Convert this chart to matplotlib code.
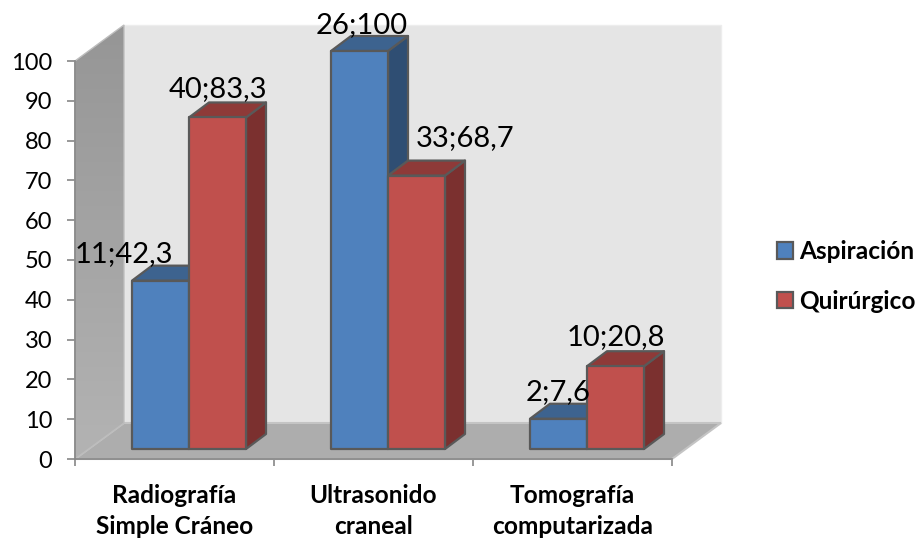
import numpy as np
import matplotlib
matplotlib.use("Agg")
import matplotlib.pyplot as plt
from matplotlib.patches import Polygon, Patch

plt.rcParams['font.family'] = ['Lato', 'DejaVu Sans']

categories = ["Radiografía\nSimple Cráneo", "Ultrasonido\ncraneal", "Tomografía\ncomputarizada"]
series_names = ["Aspiración", "Quirúrgico"]
counts_aspiracion = [11, 26, 2]
counts_quirurgico = [40, 33, 10]
pct_aspiracion = [42.3, 100, 7.6]
pct_quirurgico = [83.3, 68.7, 20.8]
y_ticks = list(range(0, 101, 10))

W, H = 916, 541
X0_PX, X1_PX = 75, 672      # ends of the category axis
Y0_PX, Y100_PX = 459, 61    # baseline and 100 on the value axis
ux = (X1_PX - X0_PX) / 3
uy = (Y0_PX - Y100_PX) / 100

fig = plt.figure(figsize=(W / 100, H / 100), dpi=100, facecolor="white")
ax = fig.add_axes([0, 0, 1, 1])
ax.set_xlim(-X0_PX / ux, (W - X0_PX) / ux)
ax.set_ylim((Y0_PX - H) / uy, Y0_PX / uy)
ax.set_facecolor("none")


def dx(px):
    return px / ux


def dy(px):
    return px / uy


# Room: back wall, floor, and side wall with a vertical gradient
wall_dx, wall_dy = dx(49), dy(36)
back = [(wall_dx, wall_dy), (3 + wall_dx, wall_dy), (3 + wall_dx, 100 + wall_dy), (wall_dx, 100 + wall_dy)]
ax.add_patch(Polygon(back, fc="#E5E5E5", ec="#EDEDED", lw=1, zorder=1))
floor = [(0, 0), (3, 0), (3 + wall_dx, wall_dy), (wall_dx, wall_dy)]
ax.add_patch(Polygon(floor, fc="#ADADAD", ec="#C4C4C4", lw=1.5, zorder=2))
side = Polygon([(0, 0), (wall_dx, wall_dy), (wall_dx, 100 + wall_dy), (0, 100)],
               fc="none", ec="#BDBDBD", lw=1, zorder=3)
ax.add_patch(side)
shade = np.linspace(0.585, 0.70, 128).reshape(-1, 1)
img = ax.imshow(shade, cmap="gray", vmin=0, vmax=1, aspect="auto", zorder=2.5,
                extent=(0, wall_dx, 0, 100 + wall_dy), origin="upper", interpolation="bilinear")
img.set_clip_path(side)
ax.set_xlim(-X0_PX / ux, (W - X0_PX) / ux)
ax.set_ylim((Y0_PX - H) / uy, Y0_PX / uy)

# Bars as three visible faces of a box
bar_w = dx(57)
bar_x0 = dx(57)
base = dy(10)
depth_x, depth_y = dx(20), dy(15)
EDGE = "#595959"
styles = [("#4F81BD", "#3D638F", "#2F4E73"), ("#C0504D", "#8E3A38", "#7B302F")]


def box(x, value, colors, z):
    front, top, right = colors
    t = base + value
    ax.add_patch(Polygon([(x + bar_w, base), (x + bar_w + depth_x, base + depth_y),
                          (x + bar_w + depth_x, t + depth_y), (x + bar_w, t)],
                         fc=right, ec=EDGE, lw=1.6, joinstyle="round", zorder=z))
    ax.add_patch(Polygon([(x, t), (x + bar_w, t), (x + bar_w + depth_x, t + depth_y), (x + depth_x, t + depth_y)],
                         fc=top, ec=EDGE, lw=1.6, joinstyle="round", zorder=z))
    ax.add_patch(Polygon([(x, base), (x + bar_w, base), (x + bar_w, t), (x, t)],
                         fc=front, ec=EDGE, lw=1.6, joinstyle="round", zorder=z + 0.1))


for i in range(len(categories)):
    box(i + bar_x0, pct_aspiracion[i], styles[0], 5 + i)
    box(i + bar_x0 + bar_w, pct_quirurgico[i], styles[1], 5.5 + i)


def label(count, pct):
    return f"{count};{pct:g}".replace(".", ",")


# Data labels, with sideways nudges where they would collide with a neighbouring bar
nudge_a = [-37, 2, 0]
nudge_q = [0, 49, 0]
nudge_up_a = [27, 26, 27]
nudge_up_q = [28, 38, 29]
for i in range(len(categories)):
    xa = i + bar_x0 + bar_w / 2
    xq = xa + bar_w
    ax.text(xa + dx(nudge_a[i]), base + pct_aspiracion[i] + dy(nudge_up_a[i]),
            label(counts_aspiracion[i], pct_aspiracion[i]), ha="center", va="center",
            fontsize=21, color="black", zorder=20)
    ax.text(xq + dx(nudge_q[i]), base + pct_quirurgico[i] + dy(nudge_up_q[i]),
            label(counts_quirurgico[i], pct_quirurgico[i]), ha="center", va="center",
            fontsize=21, color="black", zorder=20)

# Axes
for s in ("top", "right"):
    ax.spines[s].set_visible(False)
for s in ("left", "bottom"):
    ax.spines[s].set_position(("data", 0))
    ax.spines[s].set_color("#868686")
    ax.spines[s].set_linewidth(1.2)
    ax.spines[s].set_zorder(4)
ax.spines["left"].set_bounds(0, 100)
ax.spines["bottom"].set_bounds(0, 3)
ax.set_yticks(y_ticks)
ax.tick_params(axis="y", direction="out", length=6, width=1.2, color="#868686", pad=10.5, labelsize=17)
ax.set_xticks([0, 1, 2, 3])
ax.set_xticklabels([])
ax.tick_params(axis="x", which="major", direction="out", length=5, width=1.2, color="#868686")
ax.set_xticks([0.5, 1.5, 2.5], labels=categories, minor=True)
ax.tick_params(axis="x", which="minor", length=0, pad=18, labelsize=17.6)
for t in ax.get_xticklabels(minor=True):
    t.set_fontweight("bold")
    t.set_linespacing(1.42)
    t.set_multialignment("center")

handles = [Patch(fc=styles[k][0], ec=EDGE, lw=1.6, label=series_names[k]) for k in range(2)]
ax.legend(handles=handles, loc="upper left", bbox_to_anchor=(777 / W, 1 - 240 / H), frameon=False,
          prop={"weight": "bold", "size": 17.6}, handlelength=0.65, handleheight=0.65,
          handletextpad=0.25, labelspacing=1.1, borderpad=0, borderaxespad=0)

fig.savefig("out.png", dpi=100, facecolor="white")
